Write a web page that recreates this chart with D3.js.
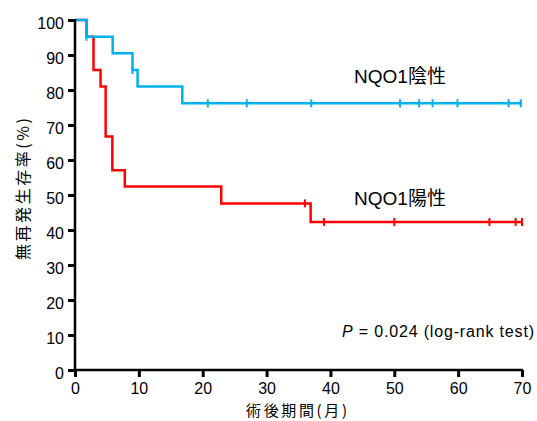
<!DOCTYPE html>
<html><head><meta charset="utf-8">
<script src="https://cdn.jsdelivr.net/npm/d3@7/dist/d3.min.js"></script>
<style>body{margin:0;background:#fff}svg{display:block}</style>
</head><body>
<script>
// Kaplan-Meier steps: [time(months), survival(%) after that time]
const negSteps = [[0,100],[1.8,95.2],[5.9,90.5],[9.0,85.7],[9.8,81.0],[16.8,76.2],[70,76.2]];
const negCensor = [1.8,9.0,20.8,26.9,37.0,50.9,53.9,56.0,59.9,67.9,69.8];
const posSteps = [[0,100],[1.8,95.2],[2.9,85.7],[4.0,81.0],[4.8,66.7],[5.85,57.1],[7.8,52.4],[22.9,47.6],[36.9,42.3],[70,42.3]];
const posCensor = [36.0,39.0,50.0,64.9,69.0,70.0];
const xTicks = [0,10,20,30,40,50,60,70];
const yTicks = [0,10,20,30,40,50,60,70,80,90,100];
const labels = {neg:"NQO1陰性", pos:"NQO1陽性", x:"術後期間(月)", y:"無再発生存率(%)"};

const W=537,H=421;
const svg=d3.select("body").append("svg").attr("width",W).attr("height",H);
const x=d3.scaleLinear().domain([0,70]).range([75,522]);
const y=d3.scaleLinear().domain([0,100]).range([370,20]);
const font='"Liberation Sans","Noto Sans CJK JP",sans-serif';
const jfont='"Noto Sans CJK JP","Liberation Sans",sans-serif';

function stepAt(steps,t){let v=steps[0][1];for(const s of steps){if(s[0]<=t)v=s[1];}return v;}
const line=d3.line().x(d=>x(d[0])).y(d=>y(d[1])).curve(d3.curveStepAfter);

function drawCurve(steps,cens,color){
  svg.append("path").datum(steps).attr("d",line).attr("fill","none")
    .attr("stroke",color).attr("stroke-width",2.5);
  svg.selectAll(null).data(cens).enter().append("line")
    .attr("x1",d=>x(d)).attr("x2",d=>x(d))
    .attr("y1",d=>y(stepAt(steps,d))-4).attr("y2",d=>y(stepAt(steps,d))+4)
    .attr("stroke",color).attr("stroke-width",2);
}
drawCurve(posSteps,posCensor,"#FF0000");
drawCurve(negSteps,negCensor,"#00B0F0");

// axes
const xa=svg.append("g").attr("transform","translate(0,370)")
  .call(d3.axisBottom(x).tickValues(xTicks).tickSize(7).tickPadding(6).tickFormat(d3.format("d")));
const ya=svg.append("g").attr("transform","translate(75,0)")
  .call(d3.axisLeft(y).tickValues(yTicks).tickSize(7).tickPadding(4).tickFormat(d3.format("d")));
[xa,ya].forEach(g=>{
  g.select(".domain").attr("stroke","#000").attr("stroke-width",2.5);
  g.selectAll(".tick line").attr("stroke","#000").attr("stroke-width",3);
  g.selectAll(".tick text").attr("font-family",font).attr("font-size",16).attr("fill","#000");
});
ya.selectAll(".tick text").attr("dy","0.5em");
xa.select(".domain").attr("d","M75,0H523");
ya.select(".domain").attr("d","M0,19V371");

svg.append("text").attr("x",400).attr("y",83).attr("text-anchor","middle")
  .attr("font-family",font).attr("font-size",19).text(labels.neg);
svg.append("text").attr("x",400).attr("y",205).attr("text-anchor","middle")
  .attr("font-family",font).attr("font-size",19).text(labels.pos);

const pt=svg.append("text").attr("x",342).attr("y",337)
  .attr("font-family",font).attr("font-size",16).attr("textLength",192).attr("lengthAdjust","spacing");
pt.append("tspan").attr("font-style","italic").text("P");
pt.append("tspan").text(" = 0.024 (log-rank test)");

svg.append("text").attr("x",246).attr("y",416)
  .attr("font-family",jfont).attr("font-size",15).attr("textLength",101).attr("lengthAdjust","spacing").text(labels.x);
svg.append("text").attr("transform","translate(29,260) rotate(-90)")
  .attr("font-family",jfont).attr("font-size",16).attr("textLength",142).attr("lengthAdjust","spacing").text(labels.y);
</script>
</body></html>
